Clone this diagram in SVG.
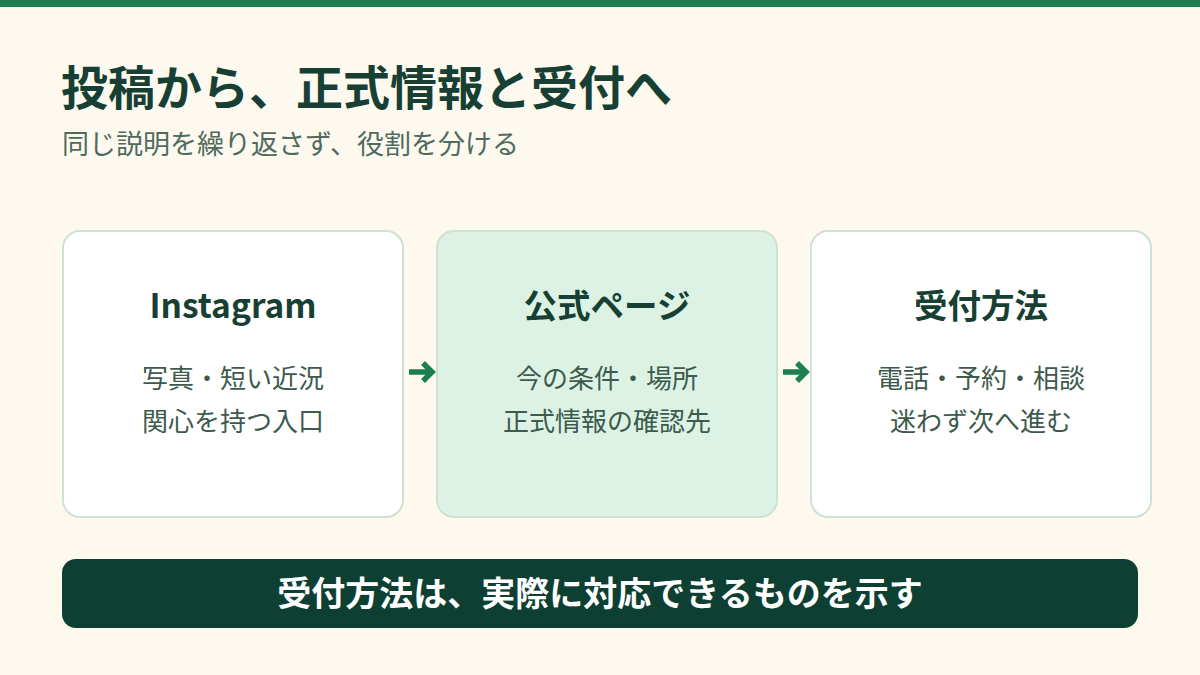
<svg xmlns="http://www.w3.org/2000/svg" width="1200" height="675" viewBox="0 0 1200 675">
  <style>
    text { font-family: "Noto Sans CJK JP", "Noto Sans", sans-serif; }
    .title { font-size: 47px; font-weight: 700; fill: #173f33; }
    .sub { font-size: 27px; font-weight: 400; fill: #4f6b5e; }
    .card { fill: #ffffff; stroke: #cfe0d4; stroke-width: 2; }
    .card.hl { fill: #dcf2e4; }
    .head { font-size: 33.5px; font-weight: 700; fill: #173f33; text-anchor: middle; }
    .body { font-size: 26px; font-weight: 400; fill: #3d5a4d; text-anchor: middle; }
    .arrow { stroke: #1b7f4f; stroke-width: 5.5; fill: none; }
    .banner { fill: #0e3f33; }
    .btext { font-size: 34px; font-weight: 700; fill: #ffffff; text-anchor: middle; }
  </style>
  <rect x="0" y="0" width="1200" height="675" fill="#fdf9ee"/>
  <rect x="0" y="0" width="1200" height="7" fill="#1b7f4f"/>
  <g id="header">
    <text class="title" x="61" y="105">投稿から、正式情報と受付へ</text>
    <text class="sub" x="62" y="154">同じ説明を繰り返さず、役割を分ける</text>
  </g>
  <g id="node-instagram">
    <rect class="card" x="63" y="231" width="340" height="286" rx="17"/>
    <text class="head" x="233" y="318">Instagram</text>
    <text class="body" x="233" y="388">写真・短い近況</text>
    <text class="body" x="233" y="431">関心を持つ入口</text>
  </g>
  <g id="node-official">
    <rect class="card hl" x="437" y="231" width="340" height="286" rx="17"/>
    <text class="head" x="607" y="318">公式ページ</text>
    <text class="body" x="607" y="388">今の条件・場所</text>
    <text class="body" x="607" y="431">正式情報の確認先</text>
  </g>
  <g id="node-reception">
    <rect class="card" x="811" y="231" width="340" height="286" rx="17"/>
    <text class="head" x="981" y="318">受付方法</text>
    <text class="body" x="981" y="388">電話・予約・相談</text>
    <text class="body" x="981" y="431">迷わず次へ進む</text>
  </g>
  <g id="connectors">
    <line class="arrow" x1="409" y1="372" x2="432" y2="372"/>
    <polyline class="arrow" points="423,363 432,372 423,381" stroke-linejoin="miter"/>
    <line class="arrow" x1="783" y1="372" x2="806" y2="372"/>
    <polyline class="arrow" points="797,363 806,372 797,381" stroke-linejoin="miter"/>
  </g>
  <g id="banner">
    <rect class="banner" x="62" y="559" width="1076" height="69" rx="14"/>
    <text class="btext" x="600" y="606">受付方法は、実際に対応できるものを示す</text>
  </g>
</svg>
